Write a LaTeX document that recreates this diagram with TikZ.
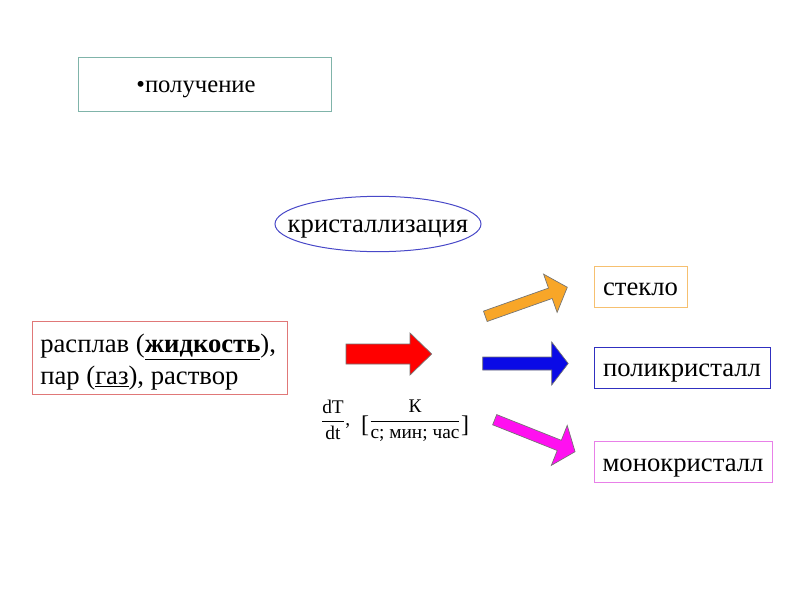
\documentclass[tikz,border=0pt]{standalone}
\usepackage{fontspec}
\setmainfont{Liberation Serif}
\usetikzlibrary{shapes.geometric}
\definecolor{topbox}{HTML}{80B4AA}
\definecolor{srcbox}{HTML}{E07878}
\definecolor{ellblue}{HTML}{4848C8}
\definecolor{glassbox}{HTML}{F6C070}
\definecolor{polybox}{HTML}{3030C0}
\definecolor{monobox}{HTML}{E880E8}
\definecolor{arrred}{HTML}{FF0000}
\definecolor{arrblue}{HTML}{0A0AE6}
\definecolor{arrorange}{HTML}{F8A628}
\definecolor{arrmag}{HTML}{FF10F0}
\newcommand{\fatarrow}[7]{%
  \begin{scope}[shift={#1},rotate=#2]
    \draw[arrowline,fill=#7] (0,-#4) -- ({#3-#6},-#4) -- ({#3-#6},-#5) -- (#3,0)
      -- ({#3-#6},#5) -- ({#3-#6},#4) -- (0,#4) -- cycle;
  \end{scope}}
\newcommand{\bigbrk}[1]{\raisebox{-5pt}{\fontsize{18}{18}\selectfont #1}}
\begin{document}
\begin{tikzpicture}[x=0.75pt,y=-0.75pt,
  boxframe/.style={draw,line width=0.75pt,rectangle,inner sep=0pt},
  bigtext/.style={font=\fontsize{20}{23.7}\selectfont},
  boxlabel/.style={bigtext,text height=14.2pt,text depth=0pt},
  arrowline/.style={draw=black!55,line width=0.5pt,line join=miter}]
\useasboundingbox[fill=white] (0,0) rectangle (800,600);

% top box
\node[boxframe,draw=topbox,minimum width=189.75pt,minimum height=40.5pt] (top) at (204.5,84) {};
\node[font=\fontsize{18.5}{22}\selectfont,inner sep=0pt,anchor=base] (toptext) at (196,92.7) {•получение};

% ellipse
\node[ellipse,draw=ellblue,line width=0.75pt,minimum width=154.5pt,minimum height=41.5pt,inner sep=0pt] (cryst) at (378,224) {};
\node[bigtext,inner sep=0pt,anchor=base] (crysttext) at (378,232) {кристаллизация};

% source box
\node[boxframe,draw=srcbox,minimum width=191.25pt,minimum height=54.75pt] (src) at (159.5,357.5) {};
\node[bigtext,inner sep=0pt,anchor=base west] (srcline1) at (40,352.7)
  {расплав (\underline{\textbf{жидкость}}),};
\node[bigtext,inner sep=0pt,anchor=base west] (srcline2) at (40,384.3)
  {пар (\underline{газ}), раствор};

% result boxes
\node[boxframe,draw=glassbox,minimum width=69.75pt,minimum height=30.75pt,boxlabel] (glass) at (640.5,286.5) {стекло};
\node[boxframe,draw=polybox,minimum width=132pt,minimum height=30.75pt,boxlabel] (poly) at (682,367.5) {поликристалл};
\node[boxframe,draw=monobox,minimum width=133.5pt,minimum height=30.75pt,boxlabel] (mono) at (683,462) {монокристалл};

% formula
\node[font=\fontsize{14.5}{16}\selectfont,inner sep=0pt] (dtfrac) at (333,420)
  {$\displaystyle\frac{\mbox{dT}}{\mbox{dt}}$};
\node[font=\fontsize{14.5}{16}\selectfont,inner sep=0pt,anchor=base west] (comma) at (345,425) {,};
\node[font=\fontsize{14.5}{16}\selectfont,inner sep=0pt] (unitfrac) at (415,421)
  {$\mbox{\bigbrk{[}}\displaystyle\frac{\mbox{К}}{\mbox{с; мин; час}}\mbox{\bigbrk{]}}$};

% block arrows
\fatarrow{(346,354)}{0}{85.7}{10}{21}{21.7}{arrred}
\fatarrow{(482.7,363.5)}{0}{85.5}{6.5}{21.5}{16.5}{arrblue}
\fatarrow{(485.3,316.3)}{19.5}{87}{5.5}{20.3}{18}{arrorange}
\fatarrow{(494.7,419.7)}{-21.7}{86.5}{5.5}{21.5}{17}{arrmag}
\end{tikzpicture}
\end{document}
